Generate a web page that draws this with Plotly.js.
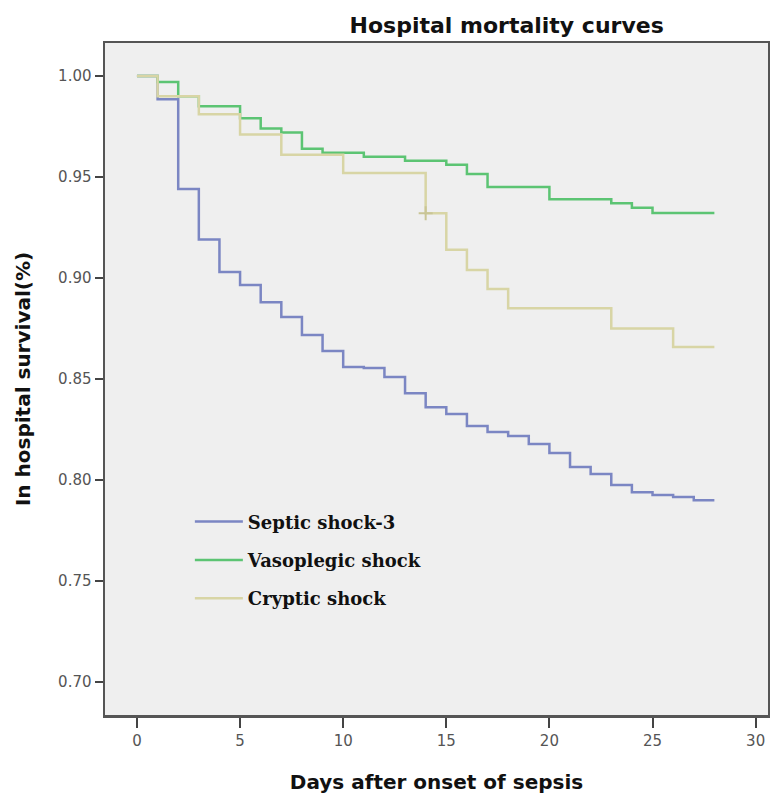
<!DOCTYPE html>
<html>
<head>
<meta charset="utf-8">
<script src="https://cdn.plot.ly/plotly-3.0.1.min.js"></script>
<style>
  html, body { margin: 0; padding: 0; background: #ffffff; }
  #chart { width: 770px; height: 799px; }
</style>
</head>
<body>
<div id="chart"></div>
<script>
// ---- Data ----
const seriesNames = ["Septic shock-3", "Vasoplegic shock", "Cryptic shock"];

const septicDays = [0, 1, 2, 3, 4, 5, 6, 7, 8, 9, 10, 11, 12, 13, 14, 15, 16, 17, 18, 19, 20, 21, 22, 23, 24, 25, 26, 27, 28];
const septicSurv = [1.000, 0.9885, 0.944, 0.919, 0.903, 0.8965, 0.888, 0.8807, 0.8718, 0.8639, 0.856, 0.8554, 0.851, 0.843, 0.836, 0.8327, 0.8267, 0.8238, 0.8218, 0.8178, 0.8134, 0.8064, 0.803, 0.7975, 0.794, 0.7926, 0.7916, 0.790, 0.790];

const vasoDays = [0, 1, 2, 3, 5, 6, 7, 8, 9, 11, 13, 15, 16, 17, 20, 23, 24, 25, 28];
const vasoSurv = [1.000, 0.997, 0.990, 0.985, 0.979, 0.974, 0.972, 0.964, 0.962, 0.960, 0.958, 0.956, 0.9515, 0.945, 0.939, 0.937, 0.9347, 0.9322, 0.9322];

const crypticDays = [0, 1, 3, 5, 7, 10, 14, 15, 16, 17, 18, 23, 26, 28];
const crypticSurv = [1.000, 0.990, 0.981, 0.971, 0.961, 0.952, 0.932, 0.914, 0.904, 0.8946, 0.885, 0.875, 0.8658, 0.8658];

const crypticCensorDays = [14];
const crypticCensorSurv = [0.932];

const xTickVals = [0, 5, 10, 15, 20, 25, 30];
const yTickVals = [0.70, 0.75, 0.80, 0.85, 0.90, 0.95, 1.00];

// ---- Styles ----
const colors = ["#7b86c3", "#5cc473", "#d8d5a5"];

function stepTrace(x, y, name, color, group) {
  return {
    type: "scatter", mode: "lines", x: x, y: y, name: name,
    legendgroup: group,
    line: { shape: "hv", color: color, width: 2.5 },
    hoverinfo: "x+y+name"
  };
}

const traces = [
  stepTrace(septicDays, septicSurv, seriesNames[0], colors[0], "g1"),
  stepTrace(vasoDays, vasoSurv, seriesNames[1], colors[1], "g2"),
  stepTrace(crypticDays, crypticSurv, seriesNames[2], colors[2], "g3"),
  {
    type: "scatter", mode: "markers", x: crypticCensorDays, y: crypticCensorSurv,
    showlegend: false, legendgroup: "g3",
    marker: { symbol: "cross-thin", size: 10, line: { color: "#c9c596", width: 2 } },
    hoverinfo: "skip"
  }
];

const tickFont = { family: "DejaVu Sans, Verdana, sans-serif", size: 15, color: "#555555" };
const titleFont = { family: "DejaVu Sans, Verdana, sans-serif", size: 20, color: "#111111", weight: "bold" };

const layout = {
  width: 770, height: 799,
  margin: { l: 105, r: 2, t: 43, b: 84 },
  paper_bgcolor: "#ffffff",
  plot_bgcolor: "#efefef",
  title: {
    text: "Hospital mortality curves",
    x: 0.658, xanchor: "center", xref: "container",
    y: 0.968, yanchor: "middle", yref: "container",
    font: { family: "DejaVu Sans, Verdana, sans-serif", size: 22, color: "#111111", weight: "bold" }
  },
  xaxis: {
    range: [-1.55, 30.6],
    tickmode: "array", tickvals: xTickVals,
    ticks: "outside", ticklen: 10, tickwidth: 2, tickcolor: "#444444",
    showline: true, linewidth: 2.5, linecolor: "#555555", mirror: true,
    showgrid: false, zeroline: false,
    tickfont: tickFont,
    title: { text: "Days after onset of sepsis", font: titleFont, standoff: 27 }
  },
  yaxis: {
    range: [0.6837, 1.0163],
    tickmode: "array", tickvals: yTickVals, tickformat: ".2f",
    ticks: "outside", ticklen: 8, tickwidth: 2, tickcolor: "#444444",
    showline: true, linewidth: 2.5, linecolor: "#555555", mirror: true,
    showgrid: false, zeroline: false,
    tickfont: tickFont,
    title: { text: "In hospital survival(%)", font: titleFont, standoff: 22 }
  },
  showlegend: true,
  legend: {
    x: 0.128, xanchor: "left", xref: "paper",
    y: 0.315, yanchor: "top", yref: "paper",
    bgcolor: "rgba(0,0,0,0)",
    traceorder: "grouped",
    tracegroupgap: 12,
    itemwidth: 48,
    font: { family: "DejaVu Serif, Liberation Serif, serif", size: 18, color: "#111111", weight: "bold" }
  }
};

Plotly.newPlot("chart", traces, layout, { displayModeBar: false, staticPlot: true });
</script>
</body>
</html>
